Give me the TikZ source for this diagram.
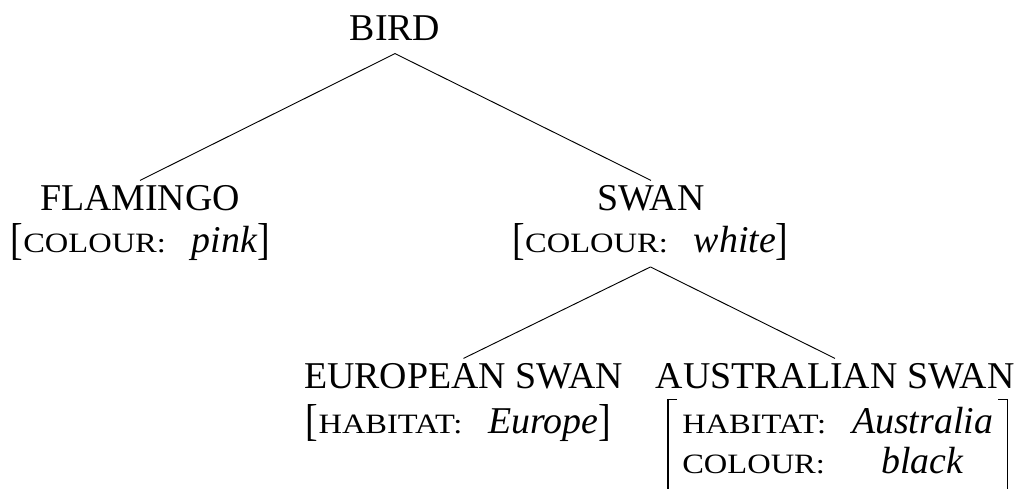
\documentclass[tikz,border=0pt]{standalone}
\usepackage{fontspec}
\usepackage{graphicx}
\setmainfont{Liberation Serif}
% small capitals for attribute names, faked by a scaled and widened roman
\newfontfamily\attrfont[Scale=0.74,FakeStretch=1.16]{Liberation Serif}
\newcommand\attr[1]{{\attrfont #1}}
\newcommand\val[1]{\textit{#1}}
\newcommand\valgap{\hspace{19.5pt}}
% slightly taller square brackets for one-line feature structures
\newcommand\lbr{\raisebox{-1.5pt}{\scalebox{1}[1.18]{[}}}
\newcommand\rbr{\raisebox{-1.5pt}{\scalebox{1}[1.18]{]}}}

\begin{document}
\begin{tikzpicture}[x=0.75pt,y=-0.75pt,
  every node/.style={inner sep=0pt, font=\fontsize{28.4pt}{30pt}\selectfont},
  typename/.style={anchor=base, text height=22pt, text depth=10pt},
  featline/.style={anchor=base, text height=20pt, text depth=11pt},
  branch/.style={line width=0.7pt},
  bracket/.style={line width=0.8pt}]
\useasboundingbox (0,0) rectangle (1021,489);

% type names
\node[typename] (bird)     at (395,40)    {BIRD};
\node[typename] (flamingo) at (140,210)   {FLAMINGO};
\node[typename] (swan)     at (651,210)   {SWAN};
\node[typename] (euswan)   at (463.5,388) {EUROPEAN SWAN};
\node[typename] (auswan)   at (835,388)   {AUSTRALIAN SWAN};

% feature structures
\node[featline] (flamingofeat) at (140.5,252) {\lbr\attr{COLOUR:}\valgap\val{pink}\rbr};
\node[featline] (swanfeat)     at (650.5,252) {\lbr\attr{COLOUR:}\valgap\val{white}\rbr};
\node[featline] (eufeat)       at (458.5,433) {\lbr\attr{HABITAT:}\valgap\val{Europe}\rbr};
\node[anchor=base west] (aufeat) at (682,433) {%
  \begin{tabular}[t]{@{}l@{\valgap}c@{}}
    \attr{HABITAT:} & \val{Australia}\\
    \attr{COLOUR:}  & \val{black}
  \end{tabular}};

% square brackets round the two-line structure
\draw[bracket] ([shift={(-5,-5)}]aufeat.north west) -- ++(-9,0) -- ++(0,120);
\draw[bracket] ([shift={(5,-5)}]aufeat.north east) -- ++(9,0) -- ++(0,120);

% branches
\draw[branch] (bird.south) -- (flamingo.north);
\draw[branch] (bird.south) -- (swan.north);
\draw[branch] (swanfeat.south) -- (euswan.north);
\draw[branch] (swanfeat.south) -- (auswan.north);
\end{tikzpicture}
\end{document}
